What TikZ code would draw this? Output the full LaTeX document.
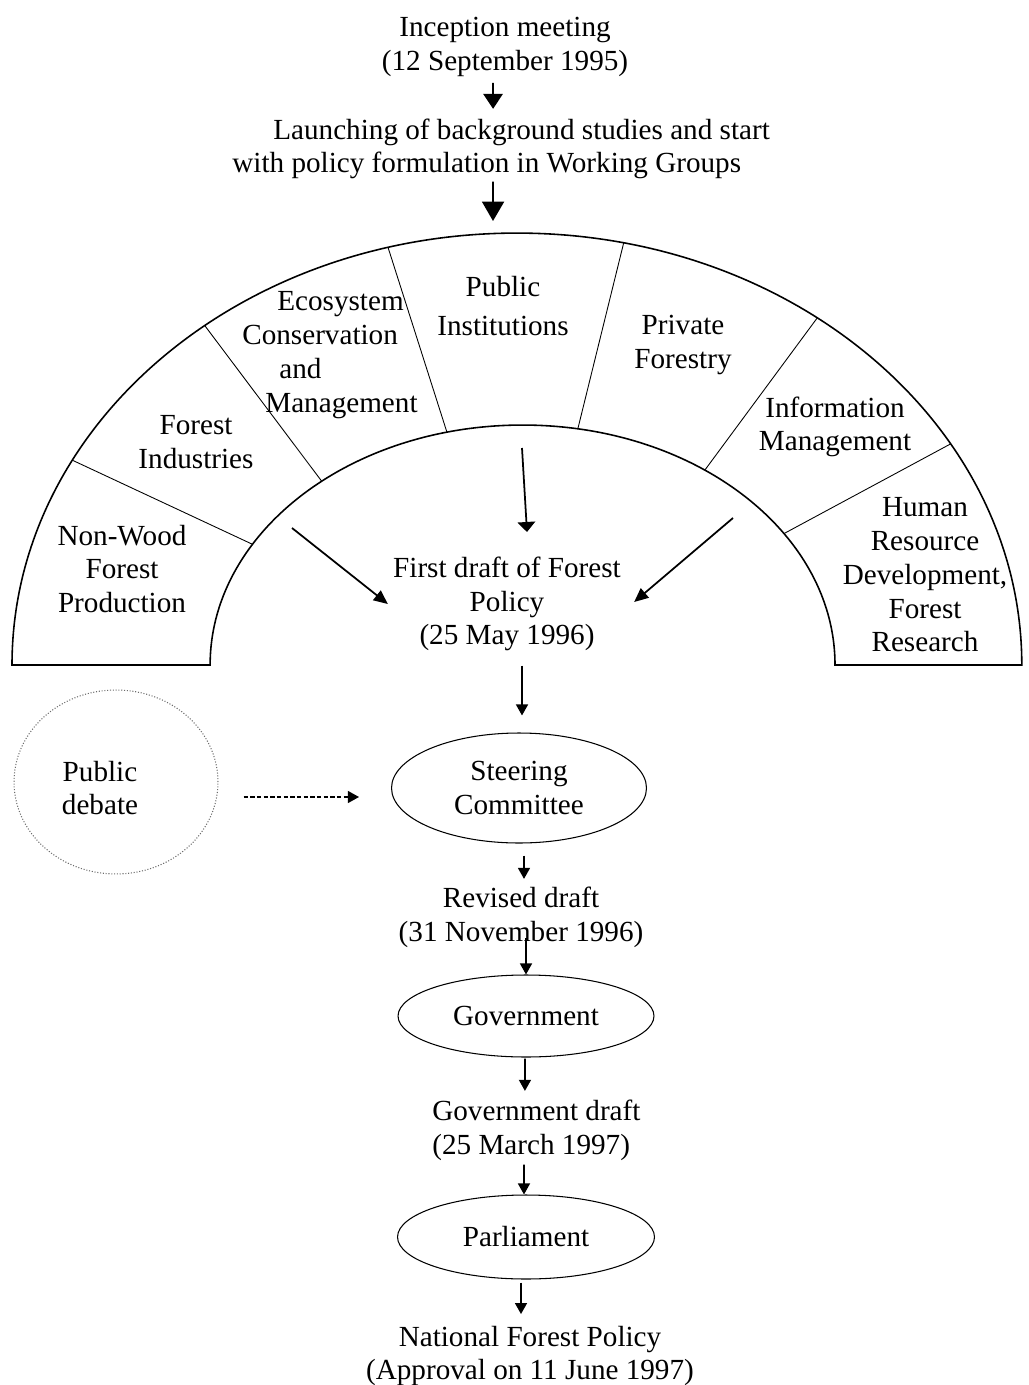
\documentclass[tikz,border=0pt]{standalone}
\usepackage{fontspec}
\setmainfont{Liberation Serif}
\usetikzlibrary{arrows.meta,positioning,shapes.geometric,calc}

\begin{document}
\begin{tikzpicture}[x=0.02cm,y=-0.02cm,>={Triangle[length=6.3pt,width=6.8pt]},
  txt/.style={inner sep=0pt,align=center,font=\fontsize{16.6}{19.2}\selectfont}]
\useasboundingbox (0,0) rectangle (1028,1385);

\tikzset{oval/.style={txt,draw,ellipse,line width=0.6pt}}
\tikzset{flow/.style={->,line width=1pt}}
\tikzset{bigtip/.style={-{Triangle[length=11pt,width=12.5pt]}}}
\tikzset{midtip/.style={-{Triangle[length=8.5pt,width=11pt]}}}
\tikzset{diagtip/.style={-{Triangle[length=8pt,width=7pt]}}}
\tikzset{flattip/.style={-{Triangle[length=5.7pt,width=10pt]}}}

  \node[txt]                           (incep)    at (505,47)   {Inception meeting\\(12 September 1995)};
  \node[txt,align=left,anchor=west]    (launch)   at (232,149)  {\hspace*{0.82cm}Launching of background studies and start\\with policy formulation in Working Groups};
  \coordinate                          (wgtop)    at (493,221);

% the working groups
  \coordinate (oc) at (517,665);
  \coordinate (ic) at (522.5,665);
  \draw[line width=0.9pt] (12,665) arc[start angle=180,end angle=0,x radius=10.1cm,y radius=8.64cm]
      -- (835,665) arc[start angle=0,end angle=180,x radius=6.25cm,y radius=4.8cm] -- cycle;
  \draw[line width=0.5pt] ($(oc)+(151.7:10.1cm and 8.64cm)$) -- ($(ic)+(149.8:6.25cm and 4.8cm)$);
  \draw[line width=0.5pt] ($(oc)+(128.2:10.1cm and 8.64cm)$) -- ($(ic)+(130.0:6.25cm and 4.8cm)$);
  \draw[line width=0.5pt] ($(oc)+(104.8:10.1cm and 8.64cm)$) -- ($(ic)+(104.0:6.25cm and 4.8cm)$);
  \draw[line width=0.5pt] ($(oc)+(77.8:10.1cm and 8.64cm)$)  -- ($(ic)+(79.8:6.25cm and 4.8cm)$);
  \draw[line width=0.5pt] ($(oc)+(53.5:10.1cm and 8.64cm)$)  -- ($(ic)+(54.3:6.25cm and 4.8cm)$);
  \draw[line width=0.5pt] ($(oc)+(30.8:10.1cm and 8.64cm)$)  -- ($(ic)+(33.2:6.25cm and 4.8cm)$);

  \node[txt]                           (nonwood)  at (122,569)  {Non-Wood\\Forest\\Production};
  \node[txt]                           (forind)   at (196,442)  {Forest\\Industries};
  \node[txt,align=left,anchor=west]    (ecosys)   at (242,355)  {\hspace*{0.7cm}Ecosystem\\Conservation\\\hspace*{0.74cm}and\\\hspace*{0.46cm}Management};
  \node[txt]                           (pubinst)  at (503,306)  {Public\\[0.1cm]Institutions};
  \node[txt]                           (private)  at (683,345)  {Private\\Forestry};
  \node[txt]                           (infoman)  at (835,427)  {Information\\Management};
  \node[txt]                           (humres)   at (925,575)  {Human\\Resource\\Development,\\Forest\\Research};

  \coordinate (wgl) at (292,528);
  \coordinate (wgc) at (522,448);
  \coordinate (wgr) at (733,518);

% drafts and approval
  \node[txt]                           (first)    at (507,604)  {First draft of Forest\\Policy\\(25 May 1996)};
  \node[oval,minimum width=5.1cm,minimum height=2.2cm]   (steer) at (519,788) {Steering\\Committee};
  \node[draw=gray!85!black,densely dotted,ellipse,line width=0.6pt,minimum width=4.08cm,minimum height=3.68cm] (debate) at (116,782) {};
  \node[txt]                           (debtxt)   at (100,788)  {Public\\debate};
  \node[txt]                           (revised)  at (521,917)  {Revised draft\\(31 November 1996)};
  \node[oval,minimum width=5.12cm,minimum height=1.64cm] (govt)  at (526,1016) {Government};
  \node[txt,align=left,anchor=west]    (govdraft) at (432,1130) {Government draft\\(25 March 1997)};
  \node[oval,minimum width=5.14cm,minimum height=1.68cm] (parl)  at (526,1237) {Parliament};
  \node[txt]                           (natpol)   at (530,1356) {National Forest Policy\\(Approval on 11 June 1997)};

\path ([shift={(-12,6)}]incep.south)    edge [flow,midtip]  ([shift={(-8,-9.5)}]launch.north)
      ([shift={(-8,2)}]launch.south)    edge [flow,bigtip]  (wgtop)
      (wgl)                             edge [flow,diagtip] ([shift={(-5,0)}]first.west)
      (wgc)                             edge [flow,flattip] ([shift={(20,-24.5)}]first.north)
      (wgr)                             edge [flow,diagtip] ([shift={(13,-2)}]first.east)
      ([shift={(15,14)}]first.south)    edge [flow]         ([shift={(3,-17)}]steer.north)
      ([shift={(5,12)}]steer.south)     edge [flow]         ([shift={(3,-7.5)}]revised.north)
      ([shift={(5,-10)}]revised.south)  edge [flow]         (govt.north)
      ([shift={(-1,1)}]govt.south)      edge [flow]         ([shift={(-11.5,-8.5)}]govdraft.north)
      ([shift={(-12.5,4)}]govdraft.south) edge [flow]       ([shift={(-2,0)}]parl.north)
      ([shift={(-5,3)}]parl.south)      edge [flow]         ([shift={(-9,-11.5)}]natpol.north);
\draw[->,line width=0.8pt,dash pattern=on 2.5pt off 1.3pt] ([shift={(25,15)}]debate.east) -- ([shift={(-32,9)}]steer.west);
\end{tikzpicture}
\end{document}
